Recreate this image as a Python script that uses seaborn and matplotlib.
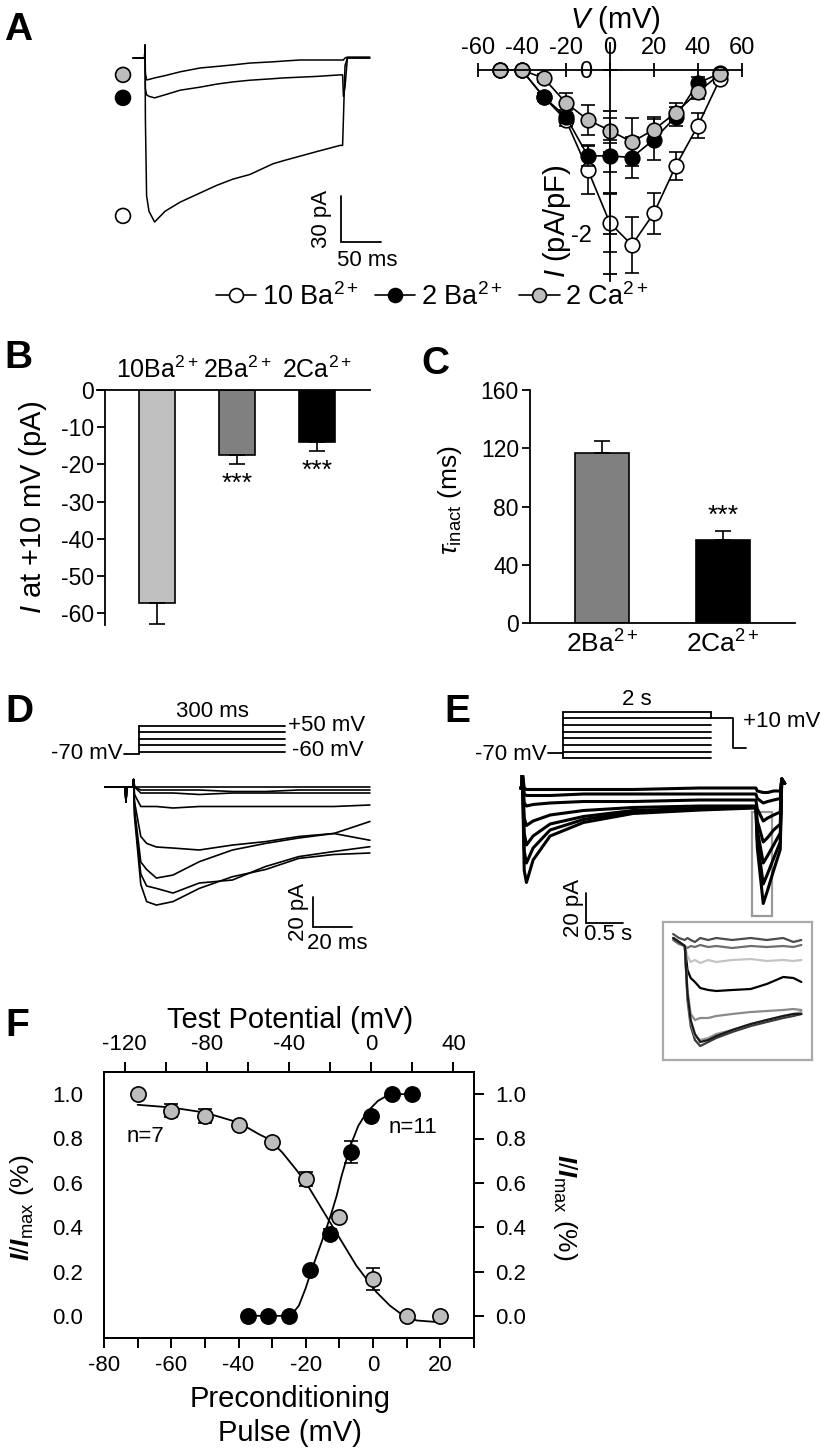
import matplotlib
matplotlib.use('Agg')
import matplotlib.pyplot as plt
from matplotlib.lines import Line2D
from matplotlib.patches import Rectangle
from matplotlib import font_manager
import seaborn as sns

# ---------------- data ----------------
# A: example currents at +10 mV (ms, pA)
A_t = [0, 14.5, 15, 15.5, 17, 20, 27, 40, 59, 84, 105, 125, 146, 175, 188, 209, 230, 259, 262, 263, 265, 268, 296]
A_10Ba = [0, 0, 8.5, -40, -90, -100, -107, -100, -94, -88, -83, -79, -76, -69, -67, -64, -61, -57, -57, -40, -5, 0, 0]
A_2Ba = [0, 0, 8.5, -20, -24, -25, -26, -24, -21, -19, -17, -15.6, -14.5, -13.5, -13, -12.5, -12, -11, -11, -25, -19, 0, 0]
A_2Ca = [0, 0, 8.5, -10, -14.3, -14, -13, -11.5, -9, -6.5, -5.5, -4.5, -3.3, -2.5, -2, -1.3, -1.3, -1.3, -1.3, -1.3, 0, 0.6, 0.6]
A_marker_I = [-103, -26, -11]
A_scalebar = [260, -120, 50, 30]          # t0, I0, ms, pA

# A right: I-V relation (mV, pA/pF)
IV_V = [-50, -40, -30, -20, -10, 0, 10, 20, 30, 40, 50]
IV_10Ba = [0, 0, -0.33, -0.61, -1.22, -1.87, -2.14, -1.75, -1.17, -0.68, -0.11]
IV_10Ba_err = [0, 0, 0.05, 0.08, 0.3, 0.35, 0.34, 0.25, 0.17, 0.15, 0.05]
IV_2Ba = [0, 0, -0.33, -0.57, -1.05, -1.05, -1.07, -0.85, -0.57, -0.16, -0.04]
IV_2Ba_err = [0, 0, 0.05, 0.08, 0.12, 0.2, 0.25, 0.25, 0.12, 0.08, 0.03]
IV_2Ca = [0, 0, -0.10, -0.40, -0.61, -0.74, -0.88, -0.73, -0.52, -0.27, -0.05]
IV_2Ca_err = [0, 0, 0.05, 0.12, 0.18, 0.15, 0.29, 0.16, 0.12, 0.08, 0.03]
IV_labels = [r'10 Ba$^{2+}$', r'2 Ba$^{2+}$', r'2 Ca$^{2+}$']
IV_face = ['white', 'black', '#bdbdbd']

# B: current at +10 mV
B_groups = ['10Ba', '2Ba', '2Ca']
B_labels = [r'10Ba$^{2+}$', r'2Ba$^{2+}$', r'2Ca$^{2+}$']
B_mean = [-57.3, -17.5, -14.1]
B_err = [5.5, 2.4, 2.2]
B_colors = ['#c0c0c0', '#808080', '#000000']

# C: inactivation time constant
C_groups = ['2Ba', '2Ca']
C_labels = [r'2Ba$^{2+}$', r'2Ca$^{2+}$']
C_mean = [116.5, 57.2]
C_err = [8.5, 5.8]
C_colors = ['#808080', '#000000']

# D: activation family (ms, pA)
D_t = [-14.4, -4, -3.6, -3.2, 0, 0.3, 0.8, 4, 7, 12, 20.5, 34, 51, 68, 85, 103, 121.5]
D_traces = [
    [0, 0, -10, 0, 0, 5, 0, 0, 0, 0, 0, 0, 0, 0, 0, 0, 0],
    [0, 0, -10, 0, 0, 5, 0, -2, -2, -2, -2, -2, -3, -3, -2, -2, -2],
    [0, 0, -10, 0, 0, 5, 0, -4, -4, -4, -4, -5, -4, -4, -4, -4, -4],
    [0, 0, -10, 0, 0, 5, -5, -13, -13, -13, -14, -13, -13, -13, -13, -13, -12],
    [0, 0, -10, 0, 0, 5, -10, -33, -37.6, -40, -40.7, -42, -38.7, -36.4, -33, -31, -23],
    [0, 0, -10, 0, 0, 5, -15, -50, -55, -60.7, -58.7, -49.8, -42, -37.6, -34, -31, -35.5],
    [0, 0, -10, 0, 0, 5, -18, -58, -66, -67.6, -70.7, -64, -62, -53, -46.4, -43, -39.8],
    [0, 0, -10, 0, 0, 5, -20, -65, -76.4, -78.7, -76.4, -67.6, -59.8, -55, -47.6, -45, -44],
]
D_scalebar = [92.3, -93.3, 20, 20]
D_prot_t = [-31, 0, 300]                # holding start, step start, step end (ms)
D_prot_levels = [-60, -32.5, -5, 22.5, 50]
D_hold = -70

# E: steady-state inactivation family (s, pA)
E_t = [-0.02, 0.0, 0.005, 0.03, 0.06, 0.15, 0.38, 0.83, 1.5, 2.4, 3.16, 3.18, 3.26, 3.32, 3.40, 3.49, 3.51, 3.55]
E_traces = [
    [0, 0, 10, -55, -63, -48, -32, -23, -17, -14.7, -13.3, -40, -77, -68, -55, -41, 6, 3],
    [0, 0, 10, -42, -50, -40, -28, -21, -16, -14, -13, -35, -64, -57, -47, -36, 6, 3],
    [0, 0, 10, -30, -38, -32, -24, -19, -15, -13.5, -12.5, -28, -50, -45, -38, -30, 6, 3],
    [0, 0, 10, -20, -25, -22, -18, -15, -13, -12, -12, -22, -36, -33, -28, -24, 6, 3],
    [0, 0, 10, -10, -12, -11, -10, -9, -9, -8, -8, -14, -22, -20, -18, -16, 6, 3],
    [0, 0, 10, -4, -5, -5, -5, -4, -4, -4, -4, -7, -10, -9, -8, -7, 6, 3],
    [0, 0, 10, 0, -1, -1, -1, -1, -1, 0, 0, -2, -3, -3, -2, -2, 6, 3],
]
E_scalebar = [0.865, -90, 0.5, 20]
E_zoom_box = [3.108, 3.378, -85.3, -16]
E_prot_rows = [0, 1, 2, 3, 4, 5, 6, 7]   # schematic prepulse levels
E_hold_row = 0.8
E_test = [2.0, 2.3, 2.47, 6, 1.5]         # t_end_pre, t_end_test, t_end, test row, return row

# E inset (ms, pA)
Ein_t = [19, 30, 41, 46, 52, 60, 70, 85, 100, 130, 165, 195, 226, 245, 260]
Ein_traces = [
    [-22, -24, -25, -24, -25, -26, -24, -25, -24, -25, -24, -25, -24, -26, -25],
    [-25, -27, -28, -29, -28, -28.5, -27.5, -28.5, -28, -29, -28, -28.5, -28, -28.5, -27.5],
    [-24, -26, -28, -33, -36, -35, -36.5, -35, -36, -35, -34.5, -35.5, -35, -35.5, -35],
    [-24, -26, -28, -40, -44, -46, -49, -50, -50.5, -50, -49.5, -47, -43.5, -44, -46],
    [-24, -26, -28, -50, -62, -65, -64, -64, -63, -62, -61, -60.5, -60, -59.5, -60],
    [-24, -26, -28, -55, -68, -75, -78, -76, -74, -71, -68, -66, -64, -63, -62],
    [-24, -26, -28, -53, -66, -73, -75, -74, -72, -70, -67, -65, -63, -62, -61],
    [-24, -26, -28, -52, -65, -72, -76, -75, -73, -70, -67, -65, -63, -62, -62],
]
Ein_colors = ['#4d4d4d', '#6e6e6e', '#c4c4c4', '#000000', '#8a8a8a', '#3a3a3a', '#9a9a9a', '#1a1a1a']

# F: activation (test potential) and inactivation (preconditioning pulse)
F_inact_V = [-70, -60, -50, -40, -30, -20, -10, 0, 10, 20]
F_inact = [1.0, 0.925, 0.902, 0.862, 0.782, 0.617, 0.444, 0.168, 0.0, 0.0]
F_inact_err = [0, 0.03, 0.03, 0.015, 0, 0.03, 0, 0.05, 0, 0]
F_act_V = [-60, -50, -40, -30, -20, -10, 0, 10, 20]
F_act = [0.0, 0.0, 0.0, 0.205, 0.37, 0.74, 0.902, 1.0, 1.0]
F_act_err = [0, 0, 0, 0, 0.02, 0.05, 0, 0, 0]
F_inact_fit_V = [-70, -60, -50, -40, -34, -31, -27, -23, -20, -17, -14, -11, -8, -5, -2, 1, 5, 9, 13, 19]
F_inact_fit = [0.952, 0.94, 0.917, 0.872, 0.82, 0.797, 0.737, 0.662, 0.602, 0.527, 0.452, 0.377,
               0.302, 0.227, 0.167, 0.107, 0.046, 0.001, -0.021, -0.028]
F_act_fit_V = [-60, -41, -38.4, -35.2, -32, -28.8, -25.6, -22.4, -19.2, -16.8, -14.4, -12, -9.5,
               -6.3, -2.3, 3.3, 8.1, 11.3, 20]
F_act_fit = [0, 0, 0.009, 0.046, 0.122, 0.212, 0.295, 0.378, 0.468, 0.542, 0.632, 0.707, 0.782,
             0.857, 0.917, 0.970, 0.995, 1.0, 1.0]

# ---------------- style ----------------
sns.set_theme(style='white')
plt.rcParams['font.family'] = ['Liberation Sans', 'DejaVu Sans']
plt.rcParams['axes.unicode_minus'] = False
plt.rcParams['mathtext.fontset'] = 'custom'
plt.rcParams['mathtext.rm'] = 'Liberation Sans'
plt.rcParams['mathtext.it'] = 'Liberation Sans:italic'
plt.rcParams['mathtext.bf'] = 'Liberation Sans:bold'
plt.rcParams['mathtext.bfit'] = 'Liberation Sans:bold:italic'
for k in ['text.color', 'axes.labelcolor', 'xtick.color', 'ytick.color', 'axes.edgecolor']:
    plt.rcParams[k] = 'black'

installed = {f.name for f in font_manager.fontManager.ttflist}
NARROW = ['Liberation Sans Narrow', 'Liberation Sans'] if 'Liberation Sans Narrow' in installed \
    else ['Liberation Sans', 'DejaVu Sans']

W, H = 821, 1454
fig = plt.figure(figsize=(W / 100, H / 100), dpi=100)


def px_axes(x0, y0, x1, y1):
    return fig.add_axes([x0 / W, 1 - y1 / H, (x1 - x0) / W, (y1 - y0) / H])


def fxy(x, y):
    return x / W, 1 - y / H


def trace_axes(box, origin, scale):
    x0, y0, x1, y1 = box
    ox, oy = origin
    sx, sy = scale
    ax = px_axes(x0, y0, x1, y1)
    ax.set_xlim((x0 - ox) / sx, (x1 - ox) / sx)
    ax.set_ylim((oy - y1) / sy, (oy - y0) / sy)
    ax.axis('off')
    return ax


def scale_bar(ax, bar, xlab, ylab, xoff, yoff, fs=16):
    t0, i0, dt, di = bar
    ax.plot([t0, t0, t0 + dt], [i0 + di, i0, i0], color='black', lw=1.3, solid_joinstyle='miter')
    ax.text(t0 - xoff, i0 + di / 2, ylab, rotation=90, ha='center', va='center', fontsize=fs)
    ax.text(t0 + dt / 2 + xoff * 0.3, i0 - yoff, xlab, ha='center', va='center', fontsize=fs)


for lab, (x, y) in zip('ABCDEF', [(4, 40), (4, 368), (421, 374), (5, 722), (444, 722), (5, 1036)]):
    fig.text(*fxy(x, y), lab, fontsize=28, fontweight='bold', va='baseline')

# ---------------- A: traces ----------------
axA = trace_axes((95, 30, 400, 270), (133, 58), (0.8, 1.533))
for tr in [A_10Ba, A_2Ba, A_2Ca]:
    sns.lineplot(x=A_t, y=tr, ax=axA, color='black', lw=1.1, sort=False, estimator=None)
sns.scatterplot(x=[-12.5] * 3, y=A_marker_I, ax=axA, hue=IV_labels, palette=IV_face,
                edgecolor='black', linewidth=1.2, s=115, legend=False)
scale_bar(axA, A_scalebar, '50 ms', '30 pA', 24, 12)

# ---------------- A: I-V ----------------
axIV = px_axes(477.7, 43, 742, 281)
for vals, err, fc in zip([IV_10Ba, IV_2Ba, IV_2Ca], [IV_10Ba_err, IV_2Ba_err, IV_2Ca_err], IV_face):
    axIV.errorbar(IV_V, vals, yerr=err, fmt='none', ecolor='black', elinewidth=1.2,
                  capsize=5, capthick=1.2, clip_on=False)
    sns.lineplot(x=IV_V, y=vals, ax=axIV, color='black', lw=1.2, marker='o', markersize=10.5,
                 markerfacecolor=fc, markeredgecolor='black', markeredgewidth=1.2,
                 sort=False, estimator=None)
for ln in axIV.lines:
    ln.set_clip_on(False)
axIV.set_xlim(-60, 60)
axIV.set_ylim(-2.58, 0.33)
axIV.spines['bottom'].set_visible(False)
axIV.spines['right'].set_visible(False)
axIV.spines['top'].set_position(('data', 0))
axIV.spines['left'].set_position(('data', 0))
for s in ['top', 'left']:
    axIV.spines[s].set_linewidth(1.3)
axIV.xaxis.tick_top()
axIV.set_xticks(range(-60, 61, 20))
axIV.tick_params(axis='x', top=True, bottom=False, direction='inout', length=10, width=1.3,
                 labelsize=17, pad=3)
yt = [0, -0.5, -1, -1.5, -2, -2.5]
axIV.set_yticks(yt, labels=['0' if v == 0 else ('-2' if v == -2 else '') for v in yt])
axIV.tick_params(axis='y', left=True, direction='inout', length=10, width=1.3, labelsize=17, pad=8)
axIV.set_xlabel(r'$\it{V}$ (mV)', fontsize=21)
axIV.xaxis.set_label_position('top')
axIV.xaxis.set_label_coords(0.52, 1.063)
axIV.set_ylabel(r'$\it{I}$ (pA/pF)', fontsize=21)
axIV.yaxis.set_label_coords(0.36, 0.25)

handles = [Line2D([], [], color='black', lw=1.2, marker='o', markersize=10, markerfacecolor=fc,
                  markeredgecolor='black', markeredgewidth=1.2) for fc in IV_face]
fig.legend(handles, IV_labels, loc='center', bbox_to_anchor=fxy(432, 297), ncol=3, frameon=False,
           fontsize=19.5, handlelength=1.5, handletextpad=0.2, columnspacing=0.6)

# ---------------- B ----------------
axB = px_axes(97, 390, 370, 625)
sns.barplot(x=B_groups, y=B_mean, hue=B_groups, palette=B_colors, ax=axB, width=0.45,
            edgecolor='black', linewidth=1.2, legend=False, errorbar=None)
axB.errorbar(range(3), B_mean, yerr=[B_err, [0] * 3], fmt='none', ecolor='black',
             elinewidth=1.2, capsize=6, capthick=1.2)
axB.set_xlim(-0.75, 2.66)
axB.set_ylim(-63.2, 0)
for s in ['bottom', 'right']:
    axB.spines[s].set_visible(False)
axB.spines['left'].set_position(('axes', 8 / 273))
for s in ['top', 'left']:
    axB.spines[s].set_linewidth(1.3)
axB.xaxis.tick_top()
axB.set_xticks(range(3), labels=B_labels)
axB.tick_params(axis='x', length=0, labelsize=18, pad=5)
axB.set_yticks(range(-60, 1, 10))
axB.tick_params(axis='y', left=True, direction='out', length=6, width=1.3, labelsize=16.5, pad=2)
axB.set_xlabel('')
axB.set_ylabel(r'$\it{I}$ at +10 mV (pA)', fontsize=21)
axB.yaxis.set_label_coords(-0.175, 0.5)
for i, (m, e) in enumerate(zip(B_mean, B_err)):
    if i > 0:
        axB.text(i, m - e - 2.2, '***', ha='center', va='top', fontsize=19)

# ---------------- C ----------------
axC = px_axes(530, 390, 795, 623)
sns.barplot(x=C_groups, y=C_mean, hue=C_groups, palette=C_colors, ax=axC, width=0.45,
            edgecolor='black', linewidth=1.2, legend=False, errorbar=None)
axC.errorbar(range(2), C_mean, yerr=[[0] * 2, C_err], fmt='none', ecolor='black',
             elinewidth=1.2, capsize=6, capthick=1.2)
axC.set_xlim(-0.6, 1.6)
axC.set_ylim(0, 160)
for s in ['top', 'right']:
    axC.spines[s].set_visible(False)
for s in ['bottom', 'left']:
    axC.spines[s].set_linewidth(1.3)
axC.set_xticks(range(2), labels=C_labels)
axC.tick_params(axis='x', length=0, labelsize=19, pad=5)
axC.set_yticks(range(0, 161, 40))
axC.tick_params(axis='y', left=True, direction='out', length=6, width=1.3, labelsize=16.5, pad=2)
axC.set_xlabel('')
axC.set_ylabel(r'$\tau_{\rm inact}$ (ms)', fontsize=19)
axC.yaxis.set_label_coords(-0.25, 0.53)
axC.text(1, C_mean[1] + C_err[1] + 2, '***', ha='center', va='bottom', fontsize=19)

# ---------------- D ----------------
axDp = trace_axes((95, 695, 380, 765), (139, 737.5), (0.487, 0.236))
sns.lineplot(x=D_prot_t[:2], y=[D_hold, D_hold], ax=axDp, color='black', lw=1.3)
axDp.plot([D_prot_t[1]] * 2, [D_hold, max(D_prot_levels)], color='black', lw=1.3)
for lv in D_prot_levels:
    axDp.plot(D_prot_t[1:], [lv, lv], color='black', lw=1.3)
axDp.text(D_prot_t[0] - 2, D_hold + 2, '-70 mV', ha='right', va='center', fontsize=16)
axDp.text(150, 112, '300 ms', ha='center', va='center', fontsize=16)
axDp.text(306, 52, '+50 mV', ha='left', va='center', fontsize=16)
axDp.text(314, -56, '-60 mV', ha='left', va='center', fontsize=16)

axD = trace_axes((95, 770, 380, 950), (133, 787), (1.95, 1.5))
for tr in D_traces:
    sns.lineplot(x=D_t, y=tr, ax=axD, color='black', lw=1.2, sort=False, estimator=None)
scale_bar(axD, D_scalebar, '20 ms', '20 pA', 7.5, 11)

# ---------------- E ----------------
axEp = trace_axes((500, 685, 821, 765), (563, 758.3), (74, 6.66))
axEp.plot([-0.2, 0], [E_hold_row, E_hold_row], color='black', lw=1.3)
axEp.plot([0, 0], [min(E_prot_rows), max(E_prot_rows)], color='black', lw=1.3)
for r in E_prot_rows:
    axEp.plot([0, E_test[0]], [r, r], color='black', lw=1.3)
axEp.plot([E_test[0], E_test[0]], [E_test[3], max(E_prot_rows)], color='black', lw=1.3)
axEp.plot([E_test[0], E_test[1], E_test[1], E_test[2]], [E_test[3], E_test[3], E_test[4], E_test[4]],
          color='black', lw=1.3)
axEp.text(-0.22, E_hold_row - 0.2, '-70 mV', ha='right', va='center', fontsize=16)
axEp.text(1.0, 8.9, '2 s', ha='center', va='center', fontsize=16)
axEp.text(2.43, 5.5, '+10 mV', ha='left', va='center', fontsize=16)

axE = trace_axes((505, 775, 800, 935), (522, 788), (74, 1.5))
for tr in E_traces:
    sns.lineplot(x=E_t, y=tr, ax=axE, color='black', lw=2.2, sort=False, estimator=None)
axE.add_patch(Rectangle((E_zoom_box[0], E_zoom_box[2]), E_zoom_box[1] - E_zoom_box[0],
                        E_zoom_box[3] - E_zoom_box[2], fill=False, edgecolor='#999999', lw=1.6))
scale_bar(axE, E_scalebar, '0.5 s', '20 pA', 0.17, 8)

axEi = px_axes(663, 922, 812, 1060)
for tr, c in zip(Ein_traces, Ein_colors):
    sns.lineplot(x=Ein_t, y=tr, ax=axEi, color=c, lw=1.6, sort=False, estimator=None)
axEi.set_xlim(0, 280)
axEi.set_ylim(-85, -16)
axEi.set_xticks([])
axEi.set_yticks([])
for s in axEi.spines.values():
    s.set_visible(True)
    s.set_edgecolor('#aaaaaa')
    s.set_linewidth(1.6)

# ---------------- F ----------------
axF = px_axes(104, 1072, 474, 1338)
axF.errorbar(F_inact_V, F_inact, yerr=F_inact_err, fmt='none', ecolor='black', elinewidth=1.2,
             capsize=5, capthick=1.2)
sns.lineplot(x=F_inact_fit_V, y=F_inact_fit, ax=axF, color='black', lw=1.3, sort=False, estimator=None)
sns.scatterplot(x=F_inact_V, y=F_inact, ax=axF, color='#bdbdbd', edgecolor='black', linewidth=1.2,
                s=120, zorder=3)
axF.set_xlim(-80, 30)
axF.set_ylim(-0.1, 1.1)
for s in axF.spines.values():
    s.set_visible(True)
    s.set_linewidth(1.4)
xt = list(range(-80, 31, 10))
axF.set_xticks(xt, labels=[str(v) if v % 20 == 0 else '' for v in xt])
axF.set_yticks([0, 0.2, 0.4, 0.6, 0.8, 1.0], labels=['0.0', '0.2', '0.4', '0.6', '0.8', '1.0'])
axF.tick_params(axis='x', bottom=True, direction='out', length=7, width=1.4, labelsize=16, pad=5)
axF.tick_params(axis='y', left=False, right=True, labelright=True, direction='out', length=7,
                width=1.4, labelsize=16, pad=8)
axF.set_xlabel('Preconditioning\nPulse (mV)', fontsize=21, family=NARROW, linespacing=1.3)
axF.xaxis.set_label_coords(0.503, -0.175)
axF.set_ylabel(r'$\mathbfit{I}$/$\mathbfit{I}_{\rm max}$ (%)', fontsize=19, family=NARROW)
axF.yaxis.set_label_coords(-0.185, 0.49)
axF.text(1.245, 0.49, r'$\mathbfit{I}$/$\mathbfit{I}_{\rm max}$ (%)', transform=axF.transAxes,
         rotation=270, ha='center', va='center', fontsize=19, family=NARROW)
axF.text(-67.8, 0.807, 'n=7', ha='center', va='center', fontsize=16, family=NARROW)
axF.text(11.9, 0.848, 'n=11', ha='center', va='center', fontsize=16, family=NARROW)

axT = axF.twiny()
axT.errorbar(F_act_V, F_act, yerr=F_act_err, fmt='none', ecolor='black', elinewidth=1.2,
             capsize=5, capthick=1.2)
sns.lineplot(x=F_act_fit_V, y=F_act_fit, ax=axT, color='black', lw=1.3, sort=False, estimator=None)
sns.scatterplot(x=F_act_V, y=F_act, ax=axT, color='black', edgecolor='black', linewidth=1.2,
                s=120, zorder=3)
axT.set_xlim(-130, 50)
axT.set_ylim(-0.1, 1.1)
tt = list(range(-120, 41, 20))
axT.set_xticks(tt, labels=[str(v) if v % 40 == 0 else '' for v in tt])
axT.tick_params(axis='x', top=True, direction='out', length=7, width=1.4, labelsize=16, pad=5)
axT.set_xlabel('Test Potential (mV)', fontsize=21, family=NARROW)
axT.xaxis.set_label_coords(0.503, 1.165)
axT.set_ylabel('')
for a in [axF, axT]:
    for lab in a.get_xticklabels() + a.get_yticklabels():
        lab.set_family(NARROW)

fig.savefig('out.png', dpi=100)
